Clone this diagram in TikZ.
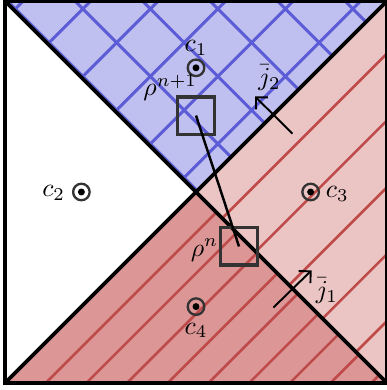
\documentclass[tikz,border=0pt]{standalone}
\usepackage{amsmath}
\usetikzlibrary{arrows.meta}
\definecolor{Dark}{HTML}{333333}
\definecolor{BlueFill}{HTML}{BFBFF0}
\definecolor{BlueLine}{HTML}{5C5CD6}
\definecolor{RedDark}{HTML}{DC9696}
\definecolor{RedLight}{HTML}{EBC4C4}
\definecolor{RedLine}{HTML}{BF4A4A}
\tikzset{
    bluehatch/.style={BlueLine, line width=1.15pt},
    redhatch/.style={RedLine, line width=1pt},
    border/.style={black, line width=1.45pt},
    cellmark/.style={circle, draw=Dark, line width=0.9pt, minimum size=6.4pt, inner sep=0pt,
        path picture={\fill[black] (path picture bounding box.center) circle (1.35pt);}},
    cellbox/.style={rectangle, draw=Dark, line width=1.2pt, minimum size=14.4pt, inner sep=0pt},
    flux/.style={-{Straight Barb[angle=90:4.6pt]}, line width=0.75pt, black},
    link/.style={black, line width=0.95pt},
}
\begin{document}
\begin{tikzpicture}[x=1.3cm, y=1.3cm]
    \useasboundingbox (-0.052,-0.073) rectangle (3.99,4.01);

    % top cell, cross hatched
    \begin{scope}
        \clip (0,4) -- (4,4) -- (2,2) -- cycle;
        \fill[BlueFill] (0,0) rectangle (4,4);
        \foreach \k in {0,...,5} {
            \draw[bluehatch] ({-0.275-0.7068*\k-1},-1) -- ++(6,6);
            \draw[bluehatch] ({4.026+0.7068*\k+1},-1) -- ++(-6,6);
        }
    \end{scope}
    % right cell
    \begin{scope}
        \clip (4,4) -- (4,0) -- (2,2) -- cycle;
        \fill[RedLight] (0,0) rectangle (4,4);
        \foreach \k in {0,...,4}
            \draw[redhatch] ({0.55+0.70*\k-1},-1) -- ++(6,6);
    \end{scope}
    % bottom cell
    \begin{scope}
        \clip (0,0) -- (4,0) -- (2,2) -- cycle;
        \fill[RedDark] (0,0) rectangle (4,4);
        \foreach \k in {1,...,9}
            \draw[redhatch] ({0.426*\k-1},-1) -- ++(6,6);
    \end{scope}

    % frame and diagonals
    \draw[border] (0,0) rectangle (4,4);
    \draw[border] (0,0) -- (4,4);
    \draw[border] (0,4) -- (4,0);

    % cell centres
    \node[cellmark] (m1) at (2,3.3) {};
    \node[cellmark] (m2) at (0.8,2) {};
    \node[cellmark] (m3) at (3.2,2) {};
    \node[cellmark] (m4) at (2,0.8) {};
    \node (lc1) at (2,3.51) {$c_1$};
    \node (lc2) at (0.51,1.99) {$c_2$};
    \node (lc3) at (3.48,1.98) {$c_3$};
    \node (lc4) at (2,0.55) {$c_4$};

    % densities
    \node[cellbox] (rhonew) at (2,2.8) {};
    \node[cellbox] (rhoold) at (2.45,1.43) {};
    \draw[link] (rhonew.center) -- (rhoold.center);
    \node (lnew) at (1.73,3.09) {$\rho^{n+1}$};
    \node (lold) at (2.09,1.39) {$\rho^{n}$};

    % fluxes
    \coordinate (j1s) at (2.81,0.79);
    \coordinate (j1e) at (3.21,1.18);
    \coordinate (j2s) at (3.01,2.61);
    \coordinate (j2e) at (2.618,3.0);
    \draw[flux] (j1s) -- (j1e);
    \draw[flux] (j2s) -- (j2e);
    \node (lj1) at (3.37,0.97) {$\bar{j}_1$};
    \node (lj2) at (2.77,3.2) {$\bar{j}_2$};
\end{tikzpicture}
\end{document}
